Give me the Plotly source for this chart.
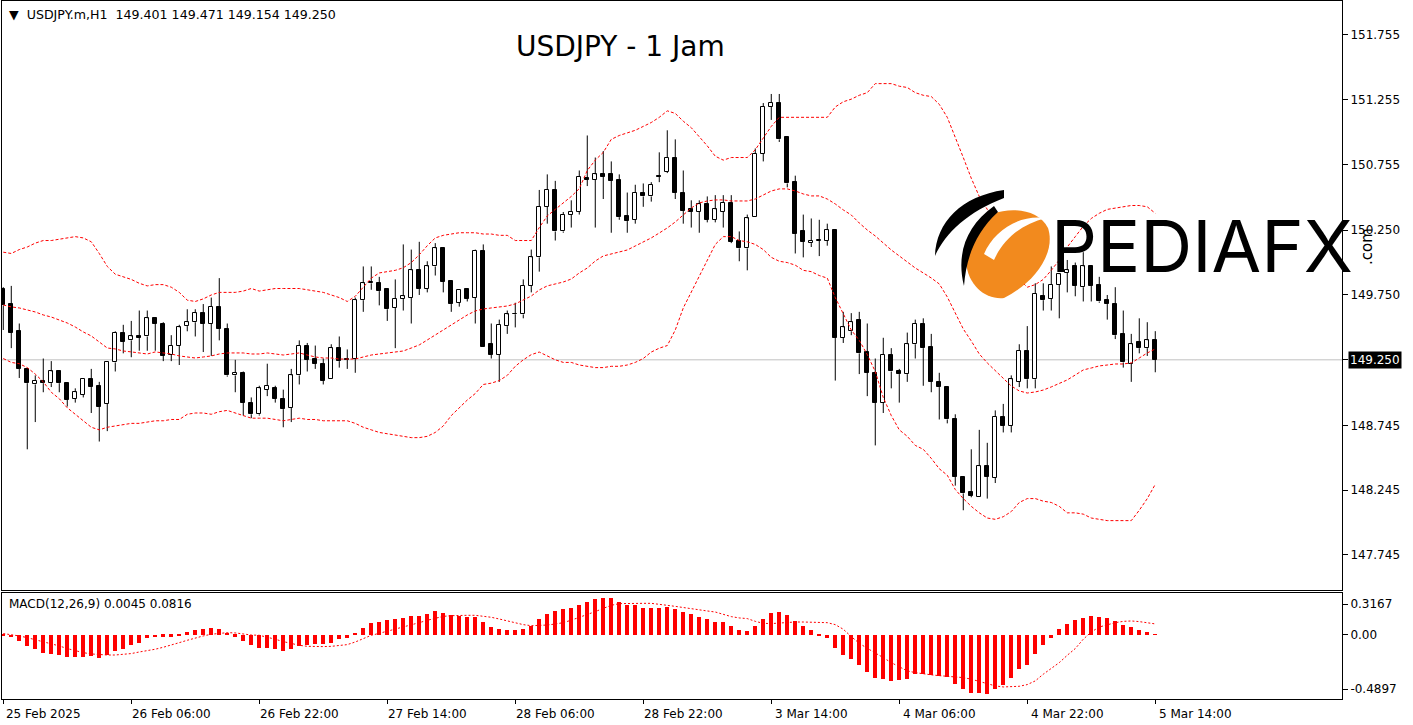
import re
import plotly.graph_objects as go

# ---------------- data ----------------
symbol = "USDJPY.m,H1"
chart_title = "USDJPY - 1 Jam"
x_labels = ["25 Feb 2025", "26 Feb 06:00", "26 Feb 22:00", "27 Feb 14:00", "28 Feb 06:00",
            "28 Feb 22:00", "3 Mar 14:00", "4 Mar 06:00", "4 Mar 22:00", "5 Mar 14:00"]
label_step = 16
price_ticks = [151.755, 151.255, 150.755, 150.250, 149.750, 149.250, 148.745, 148.245, 147.745]
macd_tick_text = ["0.3167", "0.00", "-0.4897"]

open_ = [149.80,149.68,149.47,149.18,149.06,149.09,149.07,149.16,149.07,148.95,
148.98,149.10,149.05,148.91,149.23,149.46,149.40,149.43,149.43,149.57,
149.53,149.29,149.36,149.51,149.54,149.61,149.53,149.66,149.49,149.13,
149.15,148.92,148.83,149.02,149.03,148.95,148.88,149.13,149.36,149.26,
149.22,149.10,149.34,149.26,149.26,149.71,149.84,149.84,149.80,149.65,
149.72,149.73,149.94,149.80,149.97,150.11,149.86,149.69,149.80,149.73,
150.09,149.37,149.29,149.51,149.60,149.60,149.82,150.04,150.43,150.56,
150.24,150.37,150.39,150.65,150.64,150.68,150.68,150.64,150.36,150.33,
150.54,150.51,150.67,150.70,150.81,150.54,150.41,150.39,150.45,150.33,
150.39,150.46,150.17,150.11,150.35,150.84,151.20,151.23,150.97,150.62,
150.24,150.15,150.17,150.17,150.25,149.42,149.47,149.56,149.31,149.15,
148.92,149.29,149.16,149.14,149.37,149.53,149.35,149.08,149.04,148.79,
148.35,148.23,148.19,148.43,148.34,148.81,148.74,149.08,149.32,149.10,
149.74,149.72,149.83,149.92,149.97,149.81,149.97,149.83,149.71,149.68,
149.45,149.22,149.39,149.34,149.401]

high = [149.81,149.82,149.53,149.18,149.13,149.26,149.24,149.17,149.07,149.03,
149.10,149.18,149.08,149.23,149.47,149.52,149.55,149.63,149.63,149.57,
149.54,149.44,149.52,149.64,149.64,149.68,149.73,149.88,149.53,149.25,
149.16,148.96,149.05,149.22,149.05,149.02,149.18,149.40,149.38,149.36,
149.26,149.37,149.43,149.33,149.73,149.97,149.97,149.89,149.80,149.87,
150.14,150.10,150.16,150.01,150.15,150.11,149.86,149.79,149.80,150.10,
150.14,149.53,149.56,149.63,149.69,149.87,150.10,150.56,150.68,150.63,
150.39,150.48,150.71,150.98,150.81,150.86,150.78,150.68,150.54,150.60,
150.61,150.62,150.85,151.02,150.95,150.71,150.48,150.48,150.51,150.52,
150.52,150.52,150.24,150.37,150.88,151.23,151.30,151.30,150.97,150.67,
150.37,150.34,150.33,150.30,150.25,149.62,149.61,149.62,149.53,149.26,
149.42,149.34,149.18,149.46,149.56,149.57,149.45,149.15,149.04,148.83,
148.35,148.56,148.71,148.61,148.86,148.91,149.13,149.37,149.51,149.84,
149.84,149.97,149.92,150.02,150.00,150.08,149.97,149.89,149.75,149.81,
149.63,149.45,149.57,149.54,149.471]

low = [149.48,149.34,149.11,148.56,148.77,149.00,149.04,149.00,148.89,148.92,
148.96,148.84,148.62,148.70,149.16,149.30,149.27,149.32,149.32,149.32,
149.24,149.24,149.21,149.47,149.43,149.31,149.28,149.40,149.12,149.00,
148.82,148.80,148.82,148.97,148.92,148.73,148.77,149.06,149.16,149.18,
149.06,149.10,149.19,149.18,149.15,149.62,149.79,149.67,149.55,149.34,
149.63,149.53,149.75,149.77,149.90,149.77,149.62,149.66,149.70,149.53,
149.35,149.26,149.08,149.45,149.50,149.57,149.77,149.93,150.30,150.17,
150.23,150.27,150.37,150.59,150.27,150.49,150.23,150.33,150.23,150.30,
150.43,150.47,150.62,150.69,150.49,150.30,150.27,150.23,150.31,150.31,
150.27,150.15,150.01,149.94,150.35,150.78,151.10,150.93,150.58,150.07,
150.04,150.12,150.05,150.13,149.09,149.38,149.44,149.14,148.97,148.59,
148.84,149.03,148.92,149.08,149.26,149.05,149.00,148.79,148.76,148.28,
148.09,148.19,148.19,148.18,148.30,148.69,148.69,149.04,149.03,149.03,
149.63,149.63,149.57,149.77,149.74,149.70,149.70,149.69,149.56,149.41,
149.19,149.08,149.30,149.28,149.154]

close = [149.67,149.46,149.18,149.07,149.09,149.07,149.16,149.07,148.94,149.00,
149.10,149.04,148.89,149.23,149.46,149.39,149.43,149.42,149.57,149.53,
149.28,149.36,149.50,149.54,149.61,149.53,149.66,149.49,149.13,149.15,
148.92,148.83,149.03,149.05,148.95,148.87,149.13,149.36,149.25,149.22,
149.09,149.34,149.24,149.25,149.71,149.84,149.85,149.78,149.64,149.72,
149.74,149.94,149.80,149.97,150.11,149.85,149.68,149.79,149.72,150.09,
149.35,149.29,149.52,149.60,149.60,149.82,150.04,150.43,150.56,150.24,
150.37,150.39,150.66,150.64,150.68,150.66,150.63,150.35,150.32,150.54,
150.51,150.60,150.66,150.81,150.54,150.40,150.39,150.45,150.33,150.41,
150.46,150.16,150.11,150.34,150.84,151.20,151.23,150.95,150.61,150.22,
150.16,150.17,150.17,150.25,149.42,149.50,149.54,149.30,149.15,148.92,
149.29,149.16,149.14,149.37,149.53,149.34,149.08,149.04,148.79,148.35,
148.22,148.20,148.43,148.35,148.81,148.74,149.10,149.32,149.10,149.76,
149.71,149.83,149.91,149.94,149.82,149.97,149.82,149.70,149.68,149.44,
149.23,149.37,149.34,149.40,149.250]

bb_upper = [150.08,150.07,150.10,150.12,150.15,150.17,150.17,150.18,150.19,150.20,
150.19,150.16,150.07,149.97,149.91,149.89,149.87,149.84,149.82,149.83,
149.83,149.81,149.77,149.71,149.70,149.72,149.75,149.77,149.77,149.77,
149.78,149.80,149.78,149.79,149.80,149.80,149.80,149.80,149.79,149.78,
149.77,149.75,149.73,149.70,149.74,149.81,149.88,149.92,149.93,149.94,
149.96,150.00,150.06,150.13,150.19,150.21,150.22,150.23,150.23,150.23,
150.22,150.22,150.21,150.21,150.17,150.17,150.17,150.27,150.36,150.41,
150.46,150.51,150.57,150.71,150.79,150.85,150.95,150.98,151.00,151.02,
151.05,151.08,151.12,151.17,151.15,151.09,151.04,150.97,150.90,150.82,
150.79,150.81,150.81,150.81,150.87,150.96,151.05,151.12,151.12,151.12,
151.12,151.12,151.12,151.12,151.20,151.24,151.26,151.29,151.31,151.38,
151.38,151.38,151.36,151.35,151.31,151.29,151.28,151.22,151.12,150.97,
150.81,150.65,150.51,150.41,150.28,150.14,150.00,149.87,149.81,149.83,
149.87,149.94,150.02,150.12,150.20,150.28,150.34,150.38,150.41,150.42,
150.43,150.44,150.44,150.43,150.38]

bb_middle = [149.673,149.658,149.650,149.634,149.619,149.596,149.580,149.557,149.534,149.503,
149.465,149.434,149.388,149.341,149.334,149.318,149.311,149.303,149.295,149.311,
149.303,149.295,149.280,149.272,149.264,149.272,149.280,149.295,149.303,149.303,
149.303,149.295,149.295,149.303,149.295,149.287,149.295,149.303,149.287,149.272,
149.264,149.264,149.256,149.256,149.256,149.272,149.287,149.295,149.303,149.311,
149.318,149.341,149.365,149.403,149.442,149.480,149.519,149.557,149.596,149.627,
149.642,149.650,149.658,149.665,149.681,149.712,149.742,149.789,149.820,149.835,
149.850,149.873,149.920,149.958,150.012,150.051,150.066,150.082,150.097,150.128,
150.159,150.190,150.228,150.267,150.313,150.367,150.421,150.460,150.475,150.483,
150.483,150.475,150.475,150.475,150.490,150.521,150.552,150.568,150.568,150.552,
150.529,150.514,150.514,150.490,150.452,150.406,150.367,150.305,150.251,150.205,
150.151,150.097,150.051,150.005,149.958,149.920,149.881,149.835,149.735,149.611,
149.488,149.395,149.295,149.226,149.164,149.110,149.048,149.010,148.994,149.002,
149.017,149.041,149.071,149.095,149.133,149.172,149.187,149.203,149.210,149.218,
149.218,149.226,149.264,149.303,149.334]

bb_lower = [149.26,149.23,149.22,149.19,149.14,149.08,149.00,148.95,148.88,148.83,
148.78,148.73,148.71,148.73,148.74,148.75,148.76,148.76,148.77,148.78,
148.78,148.79,148.79,148.83,148.84,148.84,148.83,148.85,148.86,148.84,
148.82,148.80,148.80,148.80,148.79,148.78,148.79,148.80,148.79,148.79,
148.78,148.78,148.78,148.78,148.76,148.73,148.71,148.69,148.68,148.67,
148.66,148.65,148.65,148.66,148.69,148.74,148.82,148.88,148.94,148.99,
149.06,149.07,149.09,149.13,149.20,149.25,149.29,149.31,149.28,149.25,
149.23,149.23,149.21,149.20,149.19,149.19,149.20,149.20,149.21,149.23,
149.26,149.31,149.34,149.36,149.48,149.65,149.77,149.89,150.02,150.14,
150.20,150.20,150.17,150.16,150.14,150.10,150.04,150.01,150.00,149.98,
149.94,149.93,149.90,149.88,149.73,149.60,149.48,149.40,149.29,149.16,
148.96,148.82,148.71,148.66,148.59,148.56,148.49,148.41,148.36,148.25,
148.18,148.12,148.07,148.03,148.02,148.04,148.08,148.15,148.18,148.18,
148.16,148.15,148.12,148.07,148.07,148.06,148.03,148.02,148.01,148.01,
148.01,148.01,148.09,148.18,148.29]

macd_hist = [-0.005,-0.018,-0.051,-0.086,-0.111,-0.137,-0.147,-0.152,-0.167,-0.172,
-0.167,-0.162,-0.180,-0.155,-0.127,-0.111,-0.079,-0.061,-0.028,-0.018,
-0.015,-0.015,-0.010,0.020,0.033,0.041,0.053,0.046,0.015,-0.015,
-0.048,-0.081,-0.099,-0.099,-0.111,-0.127,-0.111,-0.086,-0.081,-0.073,
-0.068,-0.061,-0.035,-0.028,0.015,0.053,0.086,0.099,0.109,0.122,
0.127,0.142,0.142,0.157,0.182,0.167,0.152,0.142,0.137,0.134,
0.096,0.056,0.041,0.033,0.033,0.041,0.066,0.117,0.155,0.177,
0.193,0.205,0.225,0.251,0.268,0.276,0.276,0.251,0.223,0.223,
0.205,0.205,0.205,0.213,0.198,0.175,0.155,0.137,0.117,0.099,
0.096,0.063,0.038,0.030,0.063,0.122,0.167,0.175,0.152,0.106,
0.063,0.033,-0.005,-0.023,-0.099,-0.152,-0.187,-0.233,-0.281,-0.327,
-0.334,-0.350,-0.347,-0.334,-0.301,-0.296,-0.306,-0.312,-0.319,-0.377,
-0.410,-0.446,-0.446,-0.453,-0.415,-0.385,-0.327,-0.263,-0.228,-0.144,
-0.081,-0.023,0.041,0.084,0.109,0.129,0.144,0.137,0.129,0.104,
0.071,0.056,0.033,0.023,0.0045]

macd_signal = [0.008,0.000,-0.010,-0.023,-0.038,-0.056,-0.073,-0.086,-0.106,-0.124,
-0.137,-0.147,-0.152,-0.155,-0.155,-0.152,-0.144,-0.132,-0.122,-0.111,
-0.096,-0.081,-0.061,-0.043,-0.025,-0.010,0.003,0.010,0.015,0.013,
0.005,-0.003,-0.005,-0.018,-0.035,-0.053,-0.068,-0.081,-0.089,-0.091,
-0.091,-0.089,-0.084,-0.076,-0.056,-0.028,-0.005,0.010,0.025,0.041,
0.056,0.073,0.091,0.109,0.127,0.139,0.144,0.147,0.147,0.147,
0.142,0.132,0.119,0.104,0.089,0.076,0.068,0.068,0.073,0.081,
0.091,0.110,0.130,0.152,0.175,0.200,0.223,0.236,0.238,0.238,
0.238,0.238,0.233,0.223,0.215,0.205,0.200,0.190,0.180,0.172,
0.152,0.137,0.127,0.122,0.101,0.086,0.084,0.089,0.096,0.096,
0.096,0.096,0.096,0.091,0.076,0.041,-0.015,-0.066,-0.104,-0.137,
-0.175,-0.213,-0.243,-0.276,-0.289,-0.299,-0.306,-0.312,-0.317,-0.322,
-0.327,-0.339,-0.357,-0.375,-0.390,-0.398,-0.398,-0.393,-0.380,-0.352,
-0.301,-0.258,-0.213,-0.157,-0.106,-0.035,0.020,0.058,0.076,0.091,
0.101,0.104,0.099,0.091,0.0816]

# ---------------- layout geometry ----------------
W, H = 1413, 725
ML, MR, MT, MB = 2, 71, 1, 26
PW, PH = W - ML - MR, H - MT - MB
BAR_PX = 8.0
X0 = -0.16
x_range = [X0, X0 + PW / BAR_PX]
price_range = [147.475, 152.017]
macd_range = [-0.4897, 0.3167]


def pxx(v):
    return (v - ML) / PW


def pxy(v):
    return (H - MB - v) / PH


main_dom = [pxy(590), 1.0]
macd_dom = [0.0, pxy(593)]


def to_paper_path(s):
    toks = re.findall(r"[A-Za-z]|-?\d+\.?\d*", s)
    out, nums = [], []
    for t in toks:
        if t.isalpha():
            out.append(t)
        else:
            nums.append(float(t))
            if len(nums) == 2:
                out.append(f"{pxx(nums[0]):.5f},{pxy(nums[1]):.5f}")
                nums = []
    return " ".join(out)


n = len(close)
idx = list(range(n))
up = [i for i in idx if close[i] >= open_[i]]
dn = [i for i in idx if close[i] < open_[i]]

fig = go.Figure()

# wicks (upper and lower parts, so white bodies stay clean)
wx, wy = [], []
for i in idx:
    top = max(open_[i], close[i])
    bot = min(open_[i], close[i])
    if high[i] > top:
        wx += [i, i, None]
        wy += [top, high[i], None]
    if low[i] < bot:
        wx += [i, i, None]
        wy += [bot, low[i], None]
fig.add_trace(go.Scatter(x=wx, y=wy, mode="lines", line=dict(color="black", width=1),
                         hoverinfo="skip", showlegend=False, xaxis="x", yaxis="y"))

for sel, fill in ((up, "white"), (dn, "black")):
    fig.add_trace(go.Bar(
        x=sel,
        base=[min(open_[i], close[i]) for i in sel],
        y=[max(abs(close[i] - open_[i]), 0.0008) for i in sel],
        width=0.5,
        marker=dict(color=fill, line=dict(color="black", width=1)),
        showlegend=False, xaxis="x", yaxis="y"))

for band in (bb_upper, bb_middle, bb_lower):
    fig.add_trace(go.Scatter(x=idx, y=band, mode="lines",
                             line=dict(color="#ff0000", width=1, dash="3px,2px"),
                             showlegend=False, xaxis="x", yaxis="y"))

fig.add_trace(go.Bar(x=idx, y=macd_hist, width=0.45, marker=dict(color="#ff0000", line=dict(width=0)),
                     showlegend=False, xaxis="x2", yaxis="y2"))
fig.add_trace(go.Scatter(x=idx, y=macd_signal, mode="lines",
                         line=dict(color="#ff0000", width=1, dash="2px,2px"),
                         showlegend=False, xaxis="x2", yaxis="y2"))

axis_font = dict(family="DejaVu Sans", size=12, color="black")
frame = dict(showline=True, linecolor="black", linewidth=1, mirror=True,
             showgrid=False, zeroline=False)

macd_span = macd_range[1] - macd_range[0]
macd_tickvals = [macd_range[1] - 0.104 * macd_span, 0.0, macd_range[0] + 0.094 * macd_span]

fig.update_layout(
    width=W, height=H,
    margin=dict(l=ML, r=MR, t=MT, b=MB),
    paper_bgcolor="white", plot_bgcolor="white",
    barmode="overlay", bargap=0,
    showlegend=False,
    xaxis=dict(domain=[0, 1], range=x_range, anchor="y", showticklabels=False, ticks="", **frame),
    yaxis=dict(domain=main_dom, range=price_range, side="right", anchor="x",
               tickvals=price_ticks, ticktext=[f"{v:.3f}" for v in price_ticks],
               ticks="outside", ticklen=5, tickcolor="black", tickfont=axis_font, **frame),
    xaxis2=dict(domain=[0, 1], range=x_range, anchor="y2", matches="x",
                tickvals=idx[::label_step], ticktext=x_labels,
                ticks="outside", ticklen=4, tickcolor="black", tickfont=axis_font,
                ticklabelshift=40, **frame),
    yaxis2=dict(domain=macd_dom, range=macd_range, side="right", anchor="x2",
                tickvals=macd_tickvals, ticktext=macd_tick_text,
                ticks="outside", ticklen=5, tickcolor="black", tickfont=axis_font, **frame),
)

# current price line
fig.add_shape(type="line", xref="x domain", yref="y", x0=0, x1=1, y0=close[-1], y1=close[-1],
              line=dict(color="#c0c0c0", width=1), layer="below")

# watermark logo (decoration)
fig.add_shape(type="path", xref="paper", yref="paper", layer="above", line=dict(width=0),
              fillcolor="#f28a1e",
              path=to_paper_path("M 976 224 C 994 206 1036 204 1048 228 C 1056 252 1036 282 1004 298 "
                                 "C 986 300 968 286 966 262 C 965 246 968 234 976 224 Z"))
fig.add_shape(type="path", xref="paper", yref="paper", layer="above", line=dict(width=0),
              fillcolor="white",
              path=to_paper_path("M 984 254 C 994 230 1020 214 1046 218 C 1022 224 1004 238 994 260 Z"))
fig.add_shape(type="path", xref="paper", yref="paper", layer="above", line=dict(width=0),
              fillcolor="black",
              path=to_paper_path("M 1004 190 C 962 196 936 222 935 256 C 946 232 968 212 1004 198 Z"))
fig.add_shape(type="path", xref="paper", yref="paper", layer="above", line=dict(width=0),
              fillcolor="black",
              path=to_paper_path("M 994 206 C 966 226 956 254 964 286 C 966 260 974 234 998 212 Z"))

ann = []
ann.append(dict(text="PEDIAFX", xref="paper", yref="paper", x=pxx(1049), y=pxy(246),
                xanchor="left", yanchor="middle", showarrow=False,
                font=dict(family="Inter", size=72, color="black")))
ann.append(dict(text=".com", xref="paper", yref="paper", x=pxx(1367), y=pxy(247),
                xanchor="center", yanchor="middle", showarrow=False, textangle=-90,
                font=dict(family="DejaVu Sans", size=15, color="black")))
ann.append(dict(text=chart_title, xref="paper", yref="paper", x=pxx(620), y=pxy(47),
                xanchor="center", yanchor="middle", showarrow=False,
                font=dict(family="DejaVu Sans", size=28, color="black")))
ann.append(dict(text=f"\u25bc  {symbol}  {open_[-1]:.3f} {high[-1]:.3f} {low[-1]:.3f} {close[-1]:.3f}",
                xref="paper", yref="paper", x=pxx(7), y=pxy(15), xanchor="left", yanchor="middle",
                showarrow=False, font=dict(family="DejaVu Sans", size=12.6, color="black")))
ann.append(dict(text=f"MACD(12,26,9) {macd_hist[-1]:.4f} {macd_signal[-1]:.4f}",
                xref="paper", yref="paper", x=pxx(7), y=pxy(604), xanchor="left", yanchor="middle",
                showarrow=False, font=dict(family="DejaVu Sans", size=12, color="black")))
ann.append(dict(text=f"{close[-1]:.3f}", xref="paper", yref="y", x=1, y=close[-1],
                xanchor="left", yanchor="middle", xshift=6, showarrow=False,
                bgcolor="black", borderpad=1,
                font=dict(family="DejaVu Sans", size=12, color="white")))
fig.update_layout(annotations=ann)

fig.write_html("out.html", config={"displayModeBar": False},
               post_script="document.body.style.margin='0px';document.body.style.overflow='hidden';")
